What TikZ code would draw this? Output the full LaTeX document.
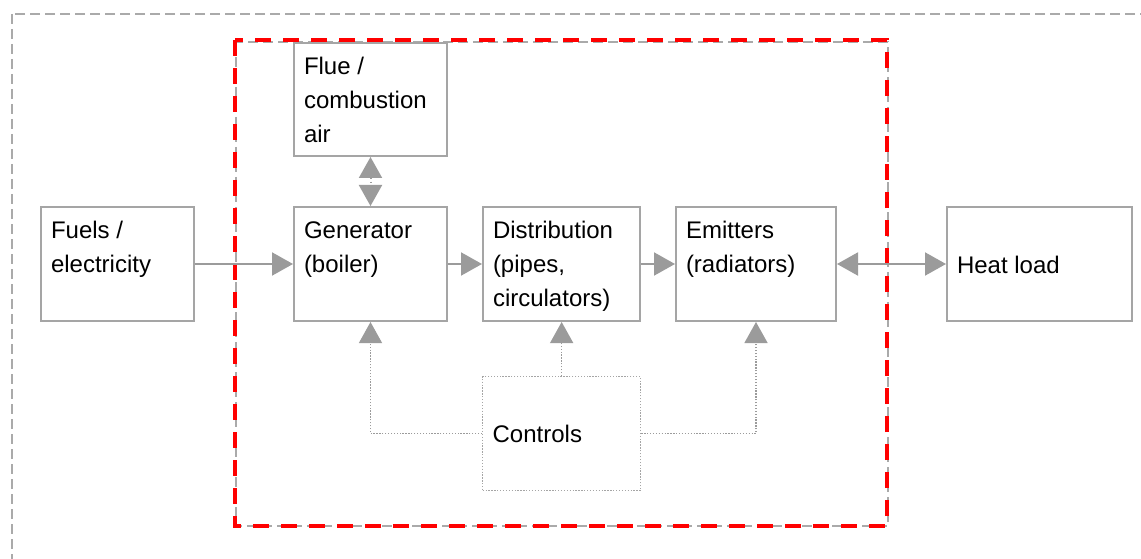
\documentclass[tikz,border=0pt]{standalone}
\usepackage{fontspec}
\setmainfont{Liberation Sans}
\usetikzlibrary{arrows.meta}

\definecolor{boxgray}{RGB}{165,165,165}
\definecolor{arrgray}{RGB}{155,155,155}
\definecolor{dashgray}{RGB}{170,170,170}
\definecolor{zonered}{RGB}{255,0,0}

% text block inside a box: width, height, vertical placement, lines
\newcommand{\celltext}[4]{\parbox[c][#2][#3]{#1}{\raggedright\strut #4}}

\tikzset{
  block/.style={draw=boxgray, line width=2pt, fill=white, anchor=north west,
    inner xsep=10pt, inner ysep=8pt, font=\fontsize{24}{34}\selectfont},
  ctlblock/.style={block, line width=1.3pt, dash pattern=on 1.3pt off 1.6pt},
  flow/.style={draw=arrgray, line width=2pt, -{Triangle[length=21pt, width=23pt]}},
  twoway/.style={draw=arrgray, line width=2pt,
    {Triangle[length=21pt, width=23pt]}-{Triangle[length=21pt, width=23pt]}},
  ctl/.style={draw=arrgray, line width=1.3pt, dash pattern=on 1.3pt off 1.6pt,
    -{Triangle[length=21pt, width=23pt]}},
  zone/.style={draw=dashgray, line width=2.4pt, dash pattern=on 10pt off 5pt},
  redzone/.style={draw=zonered, line width=3.5pt, dash pattern=on 16pt off 12pt}
}

\begin{document}
\begin{tikzpicture}[x=1pt, y=-1pt]
  \useasboundingbox (0,0) rectangle (1141,559);
  \clip (0,0) rectangle (1141,559);

  % outer system boundary (runs off the page on the right and bottom)
  \draw[zone] (12,14) rectangle (1180,600);
  % heating system boundary
  \draw[zone] (236,42) rectangle (888,526);
  \draw[redzone] (235,40) rectangle (887,526);

  % components
  \node[block] (fuel) at (40,206)
    {\celltext{133pt}{98pt}{t}{Fuels /\\electricity}};
  \node[block] (flue) at (293,42)
    {\celltext{133pt}{97pt}{t}{Flue /\\combustion\\air}};
  \node[block] (gen) at (293,206)
    {\celltext{133pt}{98pt}{t}{Generator\\(boiler)}};
  \node[block] (dist) at (482,206)
    {\celltext{137pt}{98pt}{t}{Distribution\\(pipes,\\circulators)}};
  \node[block] (emit) at (675,206)
    {\celltext{140pt}{98pt}{t}{Emitters\\(radiators)}};
  \node[block] (heat) at (946,206)
    {\celltext{165pt}{98pt}{c}{\raisebox{-3pt}{Heat load}}};
  \node[ctlblock] (ctrl) at (482,376)
    {\celltext{138pt}{98pt}{c}{\raisebox{-2pt}{Controls}}};

  % energy flow
  \draw[flow] (fuel) -- (gen);
  \draw[flow] (gen) -- (dist);
  \draw[flow] (dist) -- (emit);
  \draw[twoway] (emit) -- (heat);
  \draw[twoway, dash pattern=on 1.3pt off 3pt] (flue) -- (gen);

  % control signals
  \draw[ctl] (ctrl.west) -| (gen.south);
  \draw[ctl] (ctrl.north) -- (ctrl.north |- dist.south);
  \draw[ctl] (ctrl.east) -| (emit.south);
\end{tikzpicture}
\end{document}
